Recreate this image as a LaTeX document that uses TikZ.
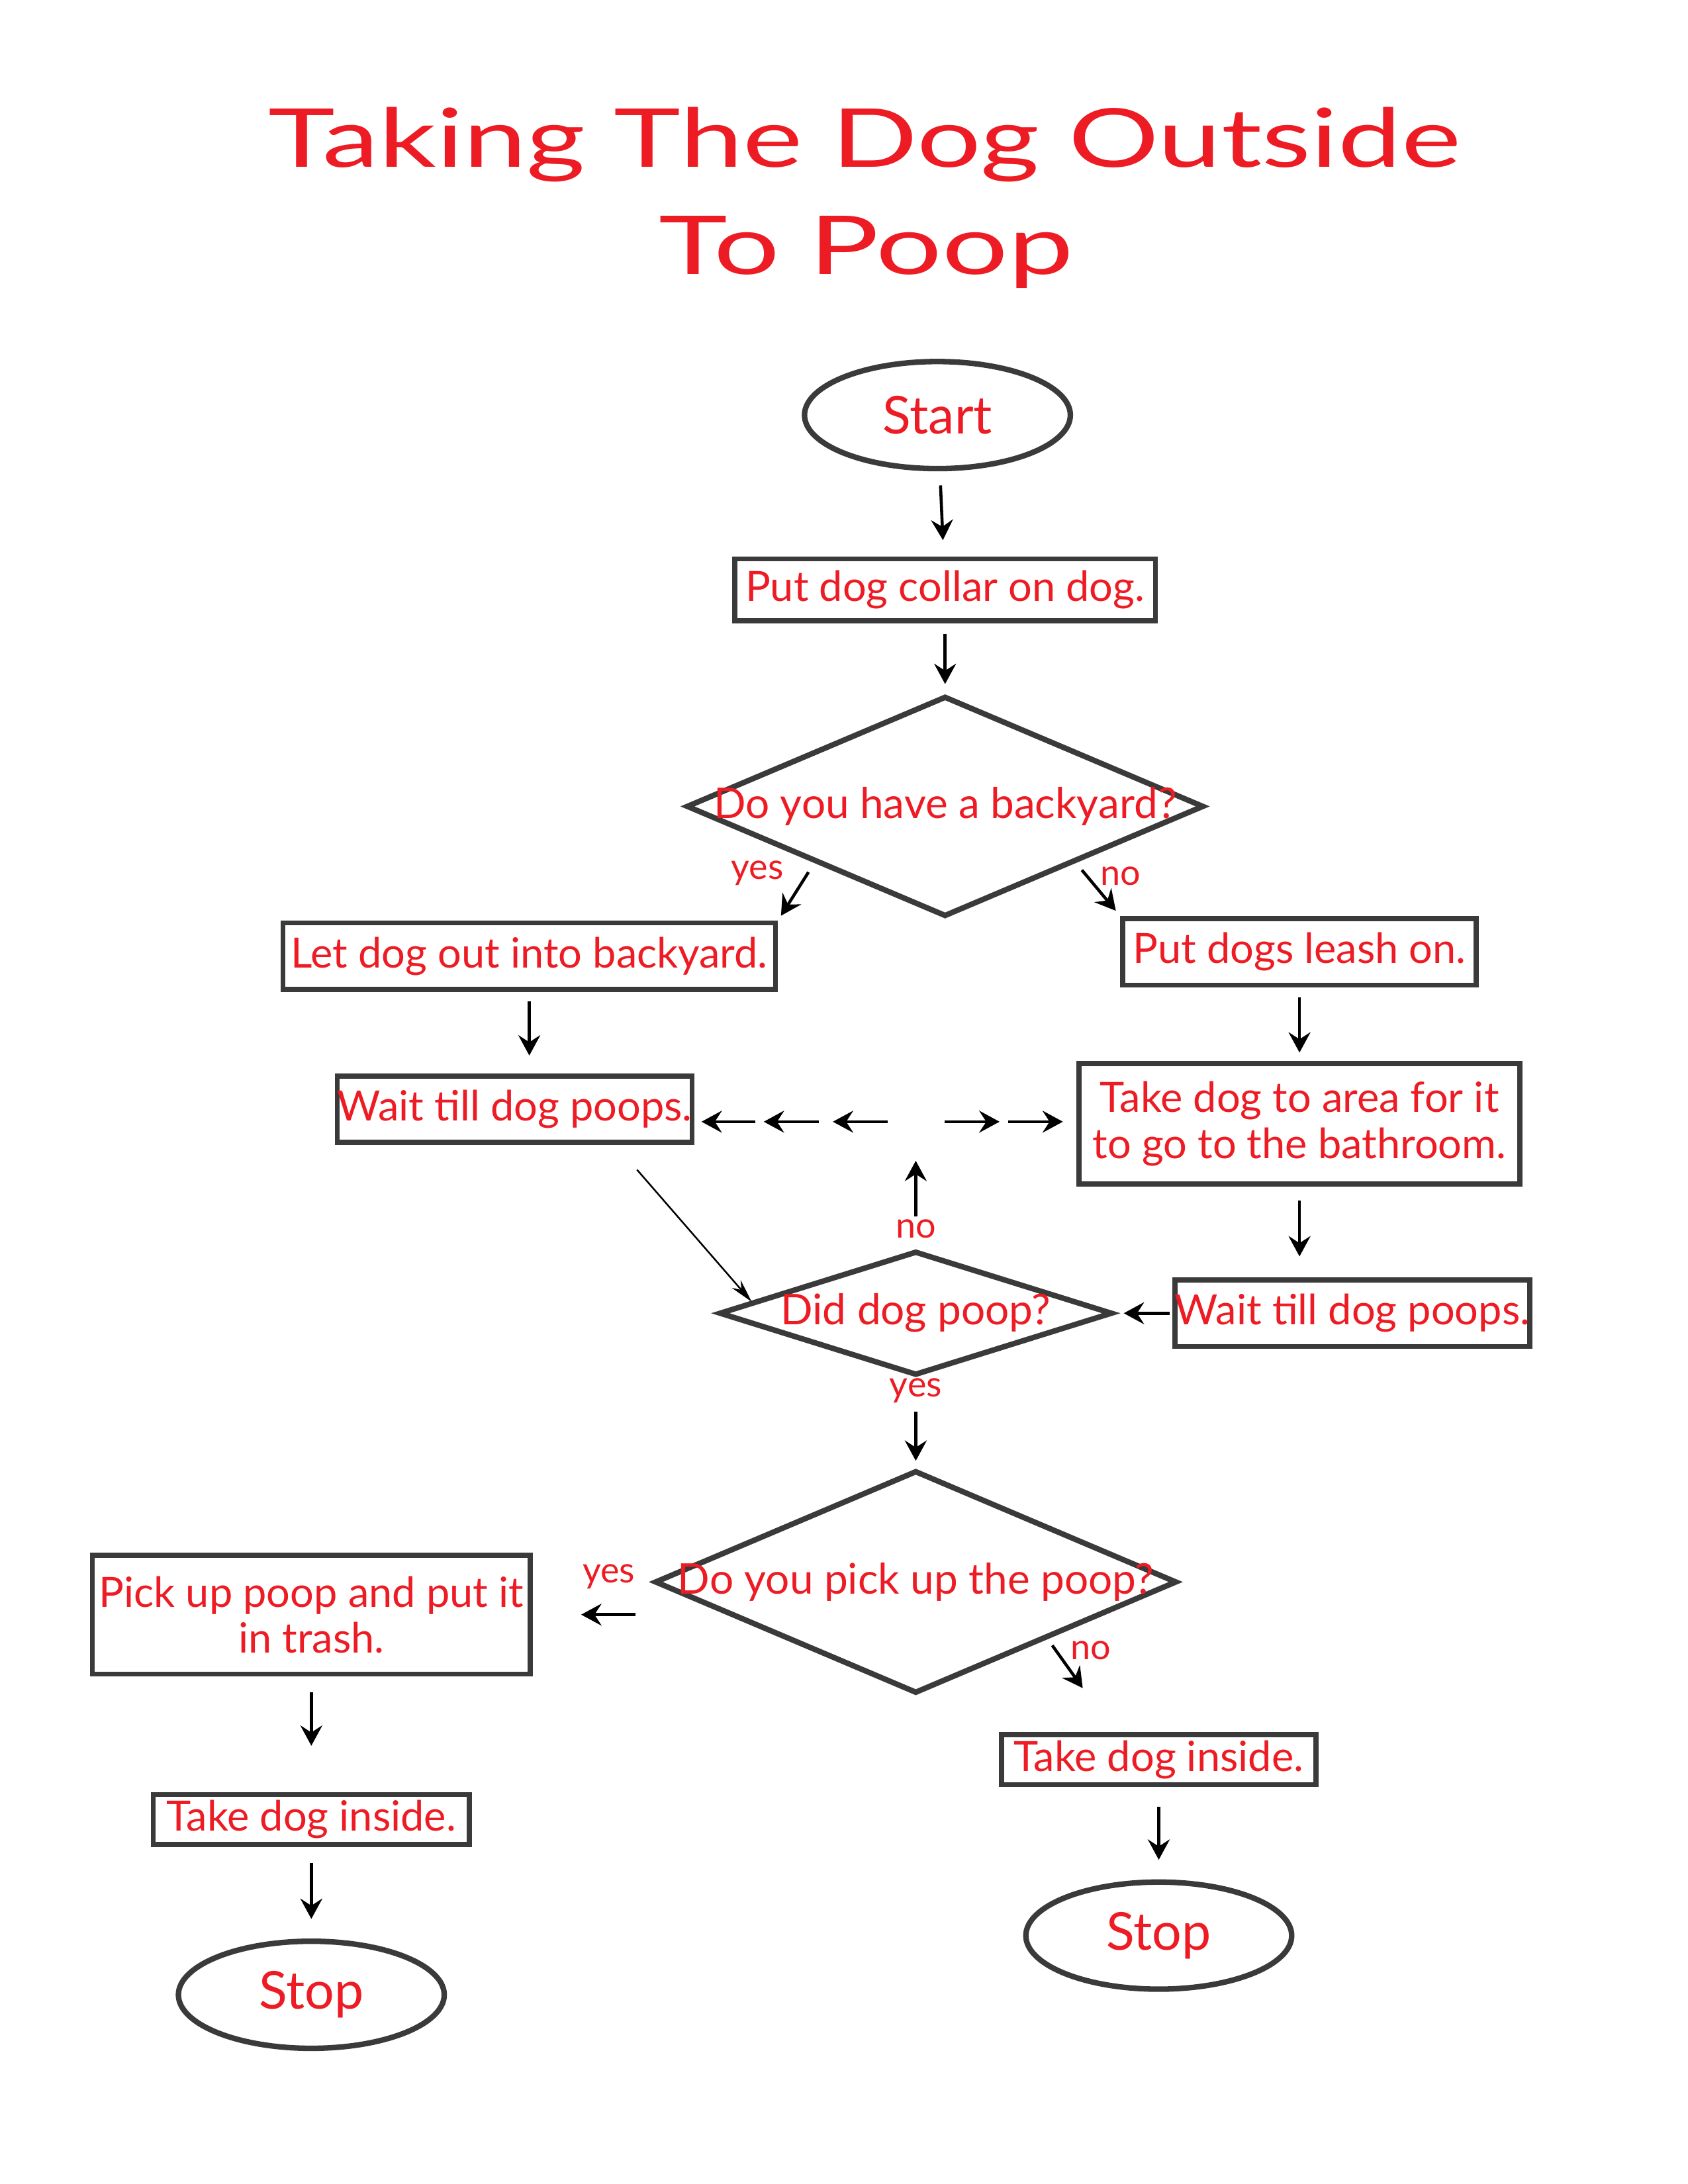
\documentclass[tikz,border=0pt]{standalone}
\usepackage{fontspec}
\setmainfont{Lato}
\usepackage{graphicx}
\usepackage{tikz}
\usetikzlibrary{arrows.meta,positioning,shapes.geometric,calc}
\definecolor{poopred}{HTML}{ED1C24}
\definecolor{edgegray}{HTML}{3A3A3A}

\begin{document}
\begin{tikzpicture}[on grid, >={Stealth[length=2.6mm,width=2.8mm,inset=0.9mm]},
	box/.style={rectangle,draw=edgegray,line width=1.8pt,inner sep=0pt,text=poopred,align=center,font=\fontsize{15.2}{16.7}\selectfont},
	decision/.style={diamond,draw=edgegray,line width=2pt,inner sep=0pt,text=poopred,font=\fontsize{15.4}{19}\selectfont},
	term/.style={ellipse,draw=edgegray,line width=2pt,minimum width=3.4cm,minimum height=1.37cm,inner sep=0pt,text=poopred,font=\fontsize{19}{22}\selectfont},
	heading/.style={inner sep=0pt,anchor=base,text=poopred,font=\fontsize{29.6}{34}\selectfont},
	lbl/.style={inner sep=0pt,text=poopred,font=\fontsize{13}{15}\selectfont},
	arr/.style={->,line width=1.1pt},
	thinarr/.style={-{Stealth[length=3mm,width=1.5mm,inset=1mm]},line width=0.6pt}]
	\useasboundingbox (0,0) rectangle (21.59,-27.94);
	\node[heading] (title1) at (11.06,-2.14) {\scalebox{1.39}[1]{Taking The Dog Outside}};
	\node[heading] (title2) at (11.08,-3.51) {\scalebox{1.43}[1]{To Poop}};
	\node[term] (start) at (11.99,-5.31) {Start};
	\node[box,minimum width=5.38cm,minimum height=0.79cm] (collar) [below right=2.236cm and 0.098cm of start] {Put dog collar on dog.};
	\node[decision,minimum width=6.62cm,minimum height=2.82cm] (yard) [below=2.77cm of collar] {\makebox[0pt]{Do you have a backyard?}};
	\node[box,minimum width=6.3cm,minimum height=0.85cm] (letout) [below left=1.915cm and 5.318cm of yard] {Let dog out into backyard.};
	\node[box,minimum width=4.52cm,minimum height=0.85cm] (leash) [below right=1.861cm and 4.533cm of yard] {Put dogs leash on.};
	\node[box,minimum width=4.54cm,minimum height=0.85cm] (wait1) [below left=1.959cm and 0.187cm of letout] {Wait till dog poops.};
	\node[box,minimum width=5.64cm,minimum height=1.54cm] (area) [below=2.2cm of leash] {Take dog to area for it\\to go to the bathroom.};
	\node[decision,minimum width=5.03cm,minimum height=1.59cm] (poop) [below left=6.484cm and 0.375cm of yard] {\makebox[0pt]{Did dog poop?}};
	\node[box,minimum width=4.52cm,minimum height=0.85cm] (wait2) [right=5.585cm of poop] {Wait till dog poops.};
	\node[decision,minimum width=6.68cm,minimum height=2.85cm] (pick) [below=3.438cm of poop] {\makebox[0pt]{Do you pick up the poop?}};
	\node[box,minimum width=5.6cm,minimum height=1.52cm] (trash) [below left=0.418cm and 7.731cm of pick] {Pick up poop and put it\\in trash.};
	\node[box,minimum width=4.04cm,minimum height=0.64cm] (inside1) [below=2.619cm of trash] {Take dog inside.};
	\node[term] (stop1) [below=2.244cm of inside1] {Stop};
	\node[box,minimum width=4.02cm,minimum height=0.64cm] (inside2) [below right=2.271cm and 3.108cm of pick] {Take dog inside.};
	\node[term] (stop2) [below=2.253cm of inside2] {Stop};
	\coordinate[above=1.62cm of poop.north] (loop);
	\coordinate (leftend) at (loop -| wait1.east);
	\coordinate (rightend) at (loop -| area.west);
	\draw[arr,shorten <=0.18cm,shorten >=0.21cm] (start) -- (collar);
	\draw[arr,shorten <=0.14cm,shorten >=0.12cm] (collar) -- (yard);
	\draw[arr,shorten <=0.14cm,shorten >=0.07cm] (yard.south west) -- (letout.north east) node[lbl,at start,xshift=-0.73cm,yshift=-0.13cm] {yes};
	\draw[arr,shorten <=0.12cm,shorten >=0.09cm] (yard.south east) -- (leash.north west) node[lbl,at start,xshift=0.57cm,yshift=-0.17cm] {no};
	\draw[arr,shorten <=0.125cm,shorten >=0.23cm] (letout.south) -- (letout.south |- wait1.north);
	\draw[arr,shorten <=0.125cm,shorten >=0.11cm] (leash) -- (area);
	\draw[arr,shorten <=0.18cm,shorten >=0.27cm] (area.south) -- (area.south |- wait2.north);
	\draw[arr,shorten <=0.04cm,shorten >=0.11cm] (wait2) -- (poop);
	\draw[thinarr,shorten <=0.42cm] ($(wait1.south west)!0.78!(wait1.south east)$) -- (poop.176);
	\draw[arr,shorten <=0.41cm,shorten >=0.5cm] (poop.north) -- (loop) node[lbl,at start,yshift=0.25cm] {no};
	\foreach \a/\b in {0.128/0.375,0.4375/0.6875,0.725/0.969}
		\draw[arr] ($(loop)!\a!(leftend)$) -- ($(loop)!\b!(leftend)$);
	\foreach \a/\b in {0.179/0.521,0.573/0.915}
		\draw[arr] ($(loop)!\a!(rightend)$) -- ($(loop)!\b!(rightend)$);
	\draw[arr,shorten <=0.43cm,shorten >=0.09cm] (poop.south) -- (pick.north) node[lbl,at start,yshift=-0.16cm] {yes};
	\draw[arr,shorten <=0.21cm,shorten >=0.62cm] (pick.west |- trash.east) -- (trash.east) node[lbl,at start,xshift=-0.55cm,yshift=0.49cm] {yes};
	\draw[arr,shorten <=0.1cm,shorten >=0.69cm] (pick.south east) -- ($(inside2.north west)!0.36!(inside2.north east)$) node[lbl,at start,xshift=0.55cm,yshift=-0.15cm] {no};
	\draw[arr,shorten <=0.2cm,shorten >=0.59cm] (trash) -- (inside1);
	\draw[arr,shorten <=0.21cm,shorten >=0.25cm] (inside1) -- (stop1);
	\draw[arr,shorten <=0.25cm,shorten >=0.25cm] (inside2) -- (stop2);
\end{tikzpicture}
\end{document}
